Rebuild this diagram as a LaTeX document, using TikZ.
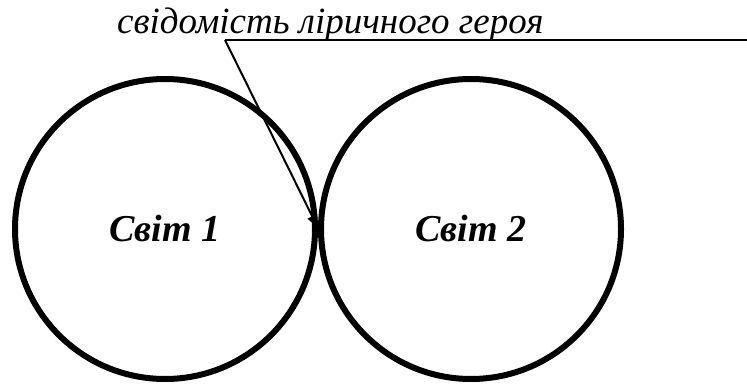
\documentclass[tikz,border=0pt]{standalone}
\usepackage{fontspec}
\setmainfont{Liberation Serif}
\usetikzlibrary{arrows.meta}
\tikzset{
  world/.style={circle, draw=black, line width=6pt, minimum size=300pt, inner sep=0pt,
    font=\fontsize{38}{42}\selectfont\bfseries\itshape},
  pointer/.style={line width=2pt, -{Triangle[length=13pt,width=10pt]}},
  rule/.style={line width=2pt}
}
\begin{document}
\begin{tikzpicture}[x=1pt,y=-1pt]
\useasboundingbox (0,0) rectangle (747,385);
\node[world] (w1) at (165,229) {Світ 1};
\node[world] (w2) at (471,229) {Світ 2};
\node[anchor=base west, inner sep=0pt, font=\fontsize{37}{40}\selectfont\itshape] (t) at (117,34) {свідомість ліричного героя};
\coordinate (u) at (225,40);
\coordinate (e) at (747,40);
\coordinate (tip) at (318,228);
\draw[rule] (u) -- (e);
\draw[pointer] (u) -- (tip);
\end{tikzpicture}
\end{document}
